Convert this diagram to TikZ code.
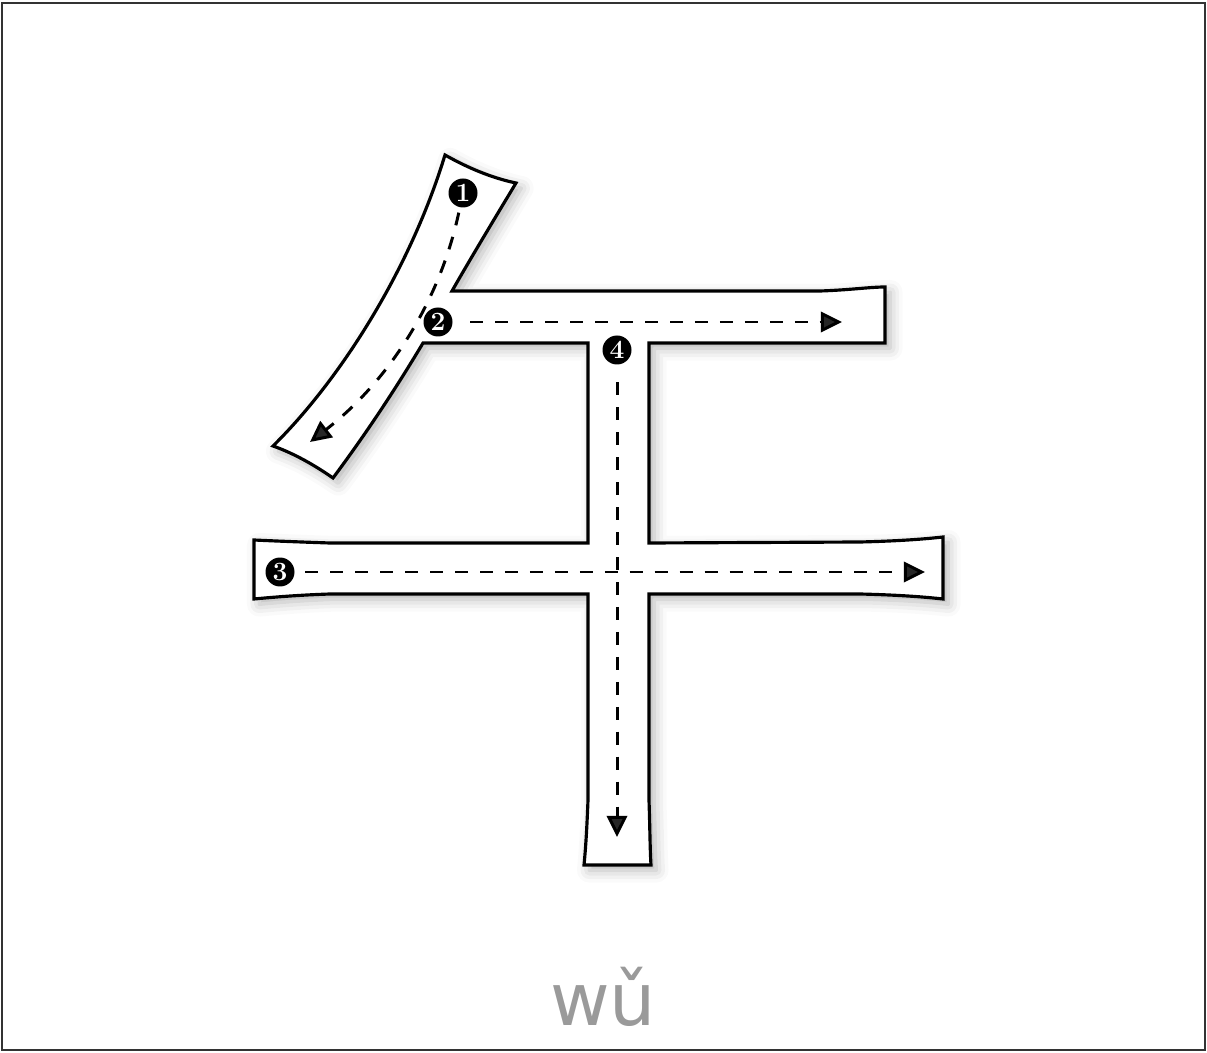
\documentclass[tikz,border=0pt]{standalone}
\usepackage{fontspec}
\newfontfamily\pinyinfont{DejaVu Sans}
\usetikzlibrary{arrows.meta,shadows.blur}
\definecolor{pinyin}{HTML}{9A9A9A}
\definecolor{frame}{HTML}{333333}
\tikzset{
  num/.style={circle, fill=black, text=white, inner sep=0pt, minimum size=0.58cm,
    font=\fontsize{15}{15}\selectfont\bfseries},
  order/.style={line width=1.7pt, dash pattern=on 7.4pt off 6.8pt,
    -{Triangle[length=12pt, width=11.5pt]}},
  glyph/.style={line width=1.8pt, fill=white, line join=miter,
    blur shadow={shadow xshift=3pt, shadow yshift=-3pt, shadow blur radius=7pt, shadow opacity=30}}
}
\begin{document}
\begin{tikzpicture}[x=0.02cm, y=-0.02cm]
    \useasboundingbox (0,0) rectangle (1207,1053);
    \draw[line width=1.6pt, frame] (2,3) rectangle (1205,1050);
    \draw[glyph] (445,155) .. controls (468,168) and (492,178) .. (516,183)
        .. controls (495,218) and (472,256) .. (452,291)
        -- (820,291) .. controls (850,290) and (870,287) .. (885,287)
        -- (885,343) -- (649,343) -- (649,543)
        -- (860,542) .. controls (900,541) and (925,539) .. (943,537)
        -- (943,599) .. controls (925,597) and (900,595) .. (860,594)
        -- (649,594) -- (649,800) .. controls (650,830) and (650,850) .. (651,865)
        -- (584,865) .. controls (586,845) and (587,825) .. (588,800)
        -- (588,594) -- (330,594) .. controls (300,595) and (275,597) .. (254,599)
        -- (254,540) .. controls (275,541) and (300,542) .. (330,543)
        -- (588,543) -- (588,343) -- (423,343)
        .. controls (395,390) and (365,435) .. (333,478)
        .. controls (310,462) and (290,452) .. (273,446)
        .. controls (340,380) and (410,270) .. (445,155) -- cycle;
    \foreach \i/\x/\y in {1/463/193, 2/438/322, 3/280/572, 4/617/350}
        {\node[num] (n\i) at (\x,\y) {\i};}
    \coordinate (e1) at (310,442);
    \coordinate (e2) at (842,322);
    \coordinate (e3) at (925,572);
    \coordinate (e4) at (617,837);
    \draw[order, shorten <=3pt] (n1) .. controls (440,300) and (390,380) .. (e1);
    \draw[order, shorten <=10pt] (n2) -- (e2);
    \draw[order, shorten <=6pt] (n3) -- (e3);
    \draw[order, shorten <=10pt] (n4) -- (e4);
    \node[font=\pinyinfont\fontsize{41.5}{41.5}\selectfont, text=pinyin, anchor=base] (py) at (603,1025) {wǔ};
\end{tikzpicture}
\end{document}
